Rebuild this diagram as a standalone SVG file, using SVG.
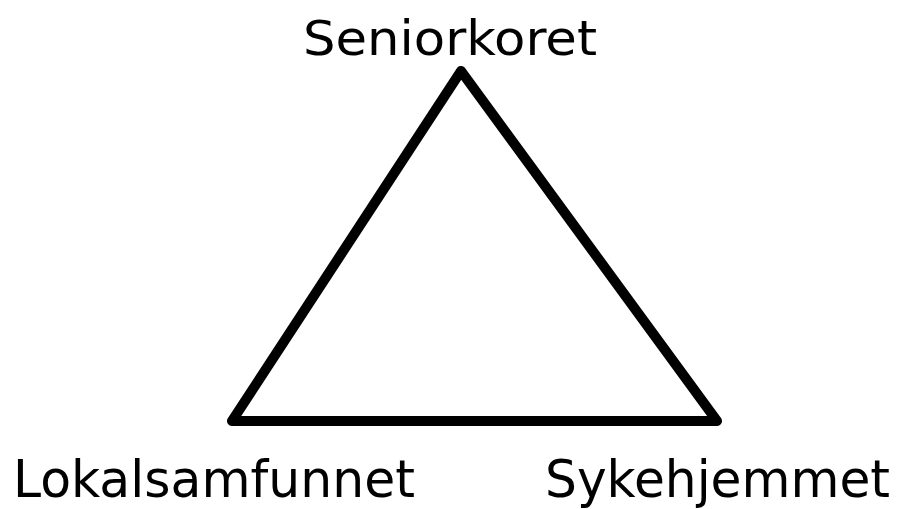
<svg xmlns="http://www.w3.org/2000/svg" width="906" height="509" viewBox="0 0 906 509">
<style>
.lbl{font-family:"DejaVu Sans","Verdana",sans-serif;font-size:48px;fill:#000}
.big{font-size:51px}
.edge{stroke:#000;stroke-width:10;stroke-linecap:round;stroke-linejoin:round;fill:none}
</style>
<rect width="906" height="509" fill="#fff"/>
<g id="connectors">
<path class="edge" d="M461,71 L232,421 M461,71 L717,421 M232,421 L717,421"/>
</g>
<g id="seniorkoret"><text class="lbl" x="303" y="55" textLength="294" lengthAdjust="spacingAndGlyphs">Seniorkoret</text></g>
<g id="lokalsamfunnet"><text class="lbl big" x="13" y="497" textLength="402" lengthAdjust="spacingAndGlyphs">Lokalsamfunnet</text></g>
<g id="sykehjemmet"><text class="lbl big" x="545" y="497" textLength="345" lengthAdjust="spacingAndGlyphs">Sykehjemmet</text></g>
</svg>
